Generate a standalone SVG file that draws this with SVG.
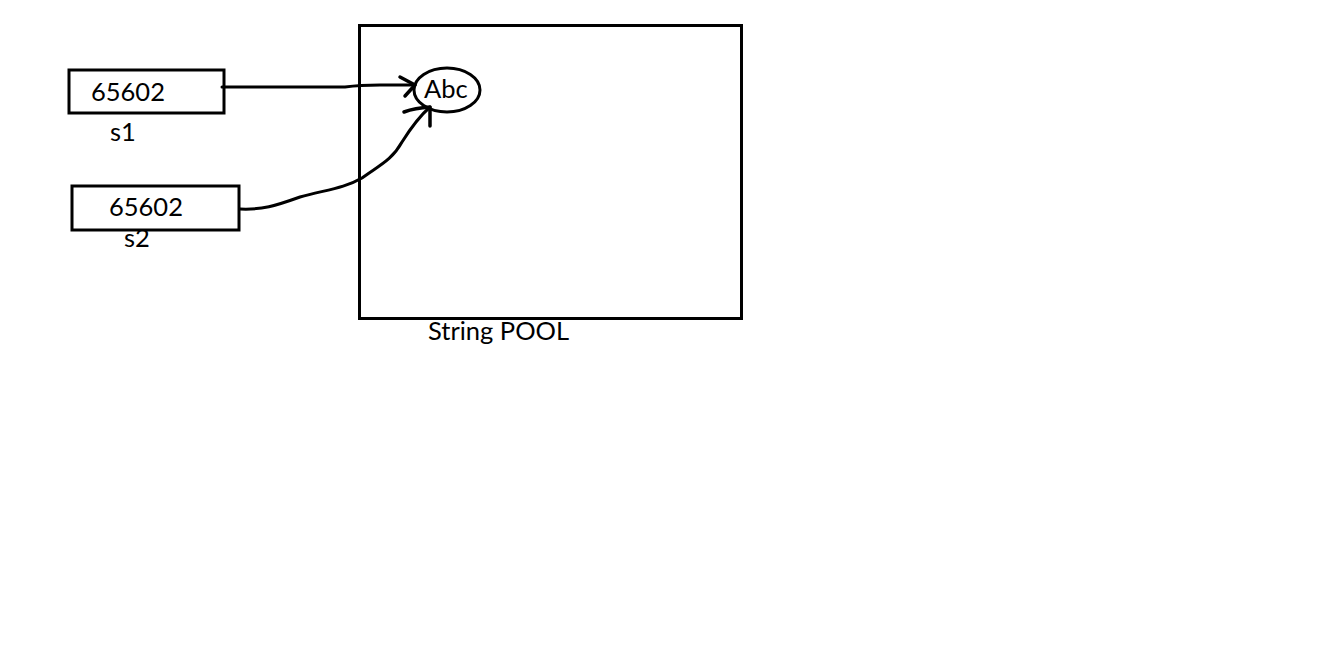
<svg xmlns="http://www.w3.org/2000/svg" width="1332" height="657" viewBox="0 0 1332 657">
<style>
.box{fill:none;stroke:#000;stroke-width:3}
.ln{fill:none;stroke:#000;stroke-width:3;stroke-linecap:round;stroke-linejoin:round}
.hd{fill:none;stroke:#000;stroke-width:3.5;stroke-linecap:round;stroke-linejoin:round}
text{font-family:Lato,"Open Sans","Liberation Sans",sans-serif;font-size:25.5px;fill:#000}
</style>
<rect width="1332" height="657" fill="#fff"/>
<g id="pool">
<rect class="box" x="359.5" y="25.5" width="382" height="293"/>
<text x="428" y="340">String POOL</text>
</g>
<g id="abc">
<ellipse class="box" cx="447" cy="90" rx="33" ry="22" stroke-width="2.5"/>
<text x="424" y="98">Abc</text>
</g>
<g id="s1">
<rect class="box" x="69" y="70" width="155" height="43"/>
<text x="91" y="101">65602</text>
<text x="110" y="141">s1</text>
</g>
<g id="s2">
<rect class="box" x="72" y="186" width="167" height="44"/>
<text x="109" y="216">65602</text>
<text x="124" y="247">s2</text>
</g>
<g id="connectors">
<path class="ln" d="M222,87 L345,87 Q360,85 380,85 L415,85"/>
<path class="hd" d="M400,77 L415,85 L405,96"/>
<path class="ln" d="M240,209 C262,210 275,206 300,197 C325,190 345,188 362,178 C380,165 392,160 402,142 C414,123 422,114 430,107"/>
<path class="hd" d="M404,112 Q415,108 430,107 L430,126"/>
</g>
</svg>
